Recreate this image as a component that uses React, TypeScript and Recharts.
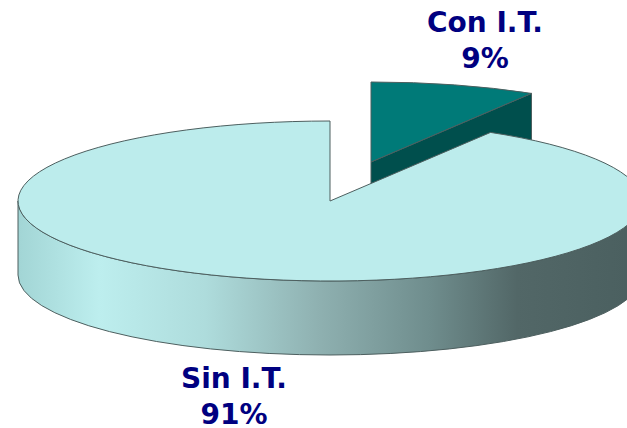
import { PieChart, Pie } from "recharts";

const categories = ["Con I.T.", "Sin I.T."];
const shares = [8.6, 91.4];
const percentLabels = ["9%", "91%"];
const topColors = ["#007a78", "#bcecec"];
const sideColor = "#004f4d";

const WIDTH = 627;
const HEIGHT = 428;
const SQUASH = 80 / 312; // tilt of the disc
const DEPTH = 74;
const EDGE = "#4d5f5f";

// exploded slice sits up and to the right of the pie centre
const sliceOffset = [
    { dx: 41, dy: -39 },
    { dx: 0, dy: 0 },
];
const labelSpots = [
    { x: 485, y: 32 },
    { x: 234, y: 388 },
];

const wallStops = [
    { at: "0%", color: "#a2d5d5" },
    { at: "13%", color: "#bdeeee" },
    { at: "30%", color: "#aedcdc" },
    { at: "48%", color: "#8fb1b1" },
    { at: "66%", color: "#6f8d8d" },
    { at: "80%", color: "#526767" },
    { at: "100%", color: "#4a5f5f" },
];

const pieData = categories.map((name, i) => ({
    name,
    value: shares[i],
    fill: topColors[i],
}));

const SliceShape = (props: any) => {
    const { startAngle, endAngle, outerRadius, fill, name } = props;
    const idx = categories.indexOf(name);
    const cx = props.cx + sliceOffset[idx].dx;
    const cy = props.cy + sliceOffset[idx].dy;
    const rx = outerRadius;
    const ry = outerRadius * SQUASH;
    const point = (deg: number) => {
        const rad = (deg * Math.PI) / 180;
        return [cx + rx * Math.cos(rad), cy - ry * Math.sin(rad)];
    };
    const [sx, sy] = point(startAngle);
    const [ex, ey] = point(endAngle);
    const large = Math.abs(startAngle - endAngle) > 180 ? 1 : 0;
    const top = `M${cx},${cy} L${sx},${sy} A${rx},${ry} 0 ${large} 1 ${ex},${ey} Z`;

    return (
        <g>
            {idx === 0 ? (
                <path
                    d={`M${cx},${cy} L${ex},${ey} L${ex},${ey + DEPTH} L${cx},${cy + DEPTH} Z`}
                    fill={sideColor}
                    stroke={EDGE}
                    strokeWidth={1}
                />
            ) : (
                <path
                    d={`M${cx - rx},${cy} A${rx},${ry} 0 0 0 ${cx + rx},${cy} L${cx + rx},${cy + DEPTH} A${rx},${ry} 0 0 1 ${cx - rx},${cy + DEPTH} Z`}
                    fill="url(#wallShade)"
                    stroke={EDGE}
                    strokeWidth={1}
                />
            )}
            <path d={top} fill={fill} stroke={EDGE} strokeWidth={1} strokeLinejoin="round" />
        </g>
    );
};

const renderLabel = (props: any) => {
    const idx = categories.indexOf(props.name);
    const spot = labelSpots[idx];
    return (
        <text
            x={spot.x}
            textAnchor="middle"
            fill="#000080"
            fontFamily="'DejaVu Sans', sans-serif"
            fontWeight="bold"
            fontSize={28}
        >
            <tspan x={spot.x} y={spot.y}>
                {categories[idx]}
            </tspan>
            <tspan x={spot.x} y={spot.y + 36}>
                {percentLabels[idx]}
            </tspan>
        </text>
    );
};

export default function App() {
    return (
        <div style={{ position: "absolute", left: 0, top: 0, width: WIDTH, height: HEIGHT, background: "#fff", overflow: "hidden" }}>
            <PieChart width={WIDTH} height={HEIGHT} margin={{ top: 0, right: 0, bottom: 0, left: 0 }}>
                <defs>
                    <linearGradient id="wallShade" x1="0" y1="0" x2="1" y2="0">
                        {wallStops.map((s) => (
                            <stop key={s.at} offset={s.at} stopColor={s.color} />
                        ))}
                    </linearGradient>
                </defs>
                <Pie
                    data={pieData}
                    dataKey="value"
                    nameKey="name"
                    cx={330}
                    cy={201}
                    outerRadius={312}
                    startAngle={90}
                    endAngle={-270}
                    stroke="none"
                    shape={SliceShape}
                    label={renderLabel}
                    labelLine={false}
                    isAnimationActive={false}
                />
            </PieChart>
        </div>
    );
}
